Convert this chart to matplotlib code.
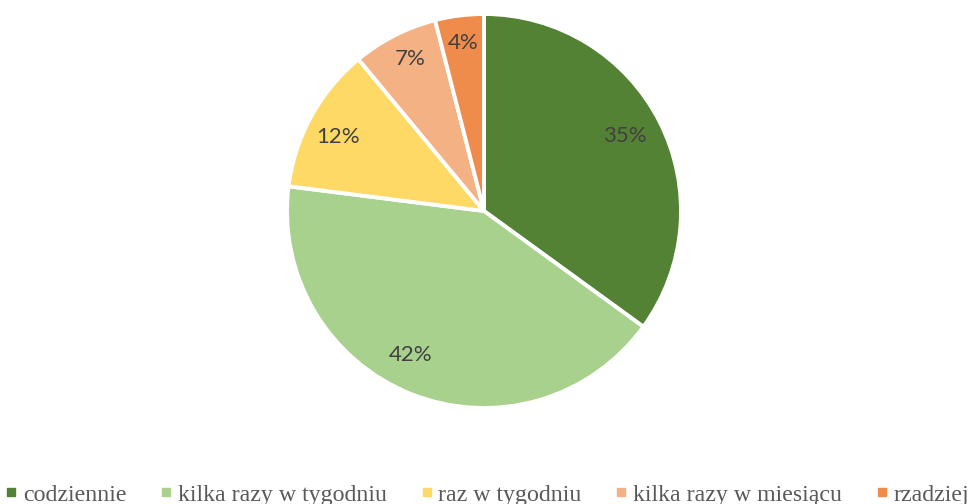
import matplotlib
matplotlib.use("Agg")
import matplotlib.pyplot as plt
from matplotlib.lines import Line2D
import numpy as np

categories = ["codziennie", "kilka razy w tygodniu", "raz w tygodniu",
              "kilka razy w miesiącu", "rzadziej"]
values = [35, 42, 12, 7, 4]
colors = ["#548235", "#A9D18E", "#FFD966", "#F4B183", "#EF8C4C"]

# label placement (style): distance from centre (fraction of radius), angle tweak (deg)
label_dist = [0.81, 0.82, 0.83, 0.86, 0.86]
label_turn = [1.0, -5.5, 2.0, -1.0, 0.0]

W, H = 970, 504
fig = plt.figure(figsize=(W / 100, H / 100), dpi=100)
cx, cy, r = 484, 211, 197
ax = fig.add_axes([(cx - r) / W, (H - cy - r) / H, 2 * r / W, 2 * r / H])

wedges, texts = ax.pie(
    values, colors=colors, startangle=90, counterclock=False, radius=1,
    wedgeprops=dict(edgecolor="white", linewidth=2.8),
)
total = sum(values)
for w, v, d, t in zip(wedges, values, label_dist, label_turn):
    ang = np.deg2rad((w.theta1 + w.theta2) / 2 + t)
    ax.text(d * np.cos(ang), d * np.sin(ang), f"{round(100 * v / total)}%",
            ha="center", va="center", fontsize=16, color="#404040",
            family=["Lato", "DejaVu Sans"])
ax.set_xlim(-1.0, 1.0)
ax.set_ylim(-1.0, 1.0)
ax.set_aspect("equal")
ax.axis("off")

handles = [Line2D([0], [0], marker="s", linestyle="none", markersize=5.2,
                  markerfacecolor=c, markeredgecolor=c) for c in colors]
leg = fig.legend(handles, categories, loc="lower center", ncol=5,
                 bbox_to_anchor=(0.5035, -0.003), frameon=False,
                 prop={"family": "Liberation Serif", "size": 17.2},
                 handlelength=0.3, handletextpad=0.34, columnspacing=1.52,
                 borderaxespad=0.0, borderpad=0.0)
for t in leg.get_texts():
    t.set_color("#595959")

fig.savefig("out.png", dpi=100, facecolor="white")
